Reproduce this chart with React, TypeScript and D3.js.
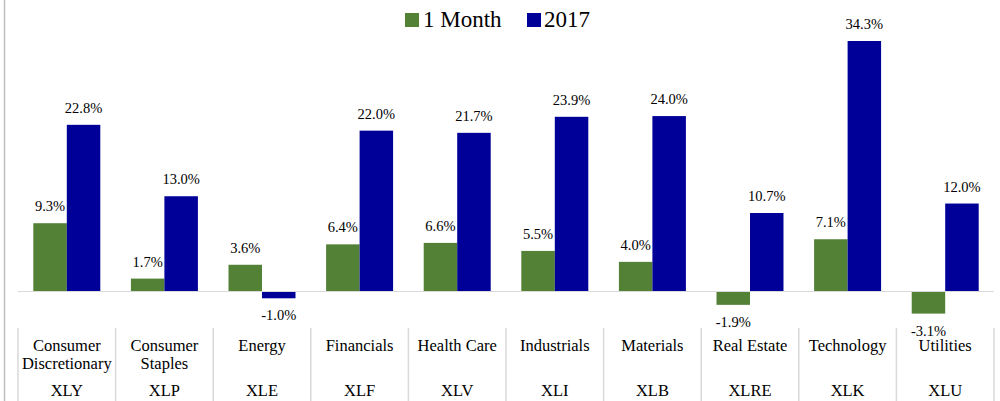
import React from "react";
import * as d3 from "d3";

const sectors = ["Consumer Discretionary", "Consumer Staples", "Energy", "Financials", "Health Care", "Industrials", "Materials", "Real Estate", "Technology", "Utilities"];
const sectorLines = [["Consumer", "Discretionary"], ["Consumer", "Staples"], ["Energy"], ["Financials"], ["Health Care"], ["Industrials"], ["Materials"], ["Real Estate"], ["Technology"], ["Utilities"]];
const tickers = ["XLY", "XLP", "XLE", "XLF", "XLV", "XLI", "XLB", "XLRE", "XLK", "XLU"];
const oneMonth = [9.3, 1.7, 3.6, 6.4, 6.6, 5.5, 4.0, -1.9, 7.1, -3.1];
const ytd2017 = [22.8, 13.0, -1.0, 22.0, 21.7, 23.9, 24.0, 10.7, 34.3, 12.0];
const seriesNames = ["1 Month", "2017"];
const colors = ["#538135", "#000099"];

const W = 1000, H = 401;
const FONT = "'Palatino Linotype', 'Book Antiqua', Palatino, 'Liberation Serif', serif";

export default function App() {
  const x = d3.scaleBand().domain(sectors).range([18, 994]).paddingInner(0).paddingOuter(0);
  const inner = d3.scaleBand().domain(seriesNames).range([0, x.bandwidth()]).paddingInner(0).paddingOuter(0.457);
  const y = d3.scaleLinear().domain([0, 34.3]).range([291, 41]);
  const series = [oneMonth, ytd2017];
  return (
    <svg width={W} height={H} style={{ position: "absolute", left: 0, top: 0, background: "#fff" }} fontFamily={FONT}>
      <line x1={4.5} x2={4.5} y1={0} y2={H} stroke="#bfbfbf" strokeWidth={1.5} />
      {/* legend */}
      <g>
        <rect x={405} y={13} width={14} height={14} fill={colors[0]} />
        <text x={423} y={27} fontSize={23} fill="#000">1 Month</text>
        <rect x={527} y={13} width={14} height={14} fill={colors[1]} />
        <text x={544} y={27} fontSize={23} fill="#000">2017</text>
      </g>
      {/* bars */}
      {series.map((vals, si) =>
        vals.map((v, i) => {
          const bx = (x(sectors[i]) as number) + (inner(seriesNames[si]) as number);
          const bw = inner.bandwidth();
          const y0 = y(0), y1 = y(v);
          return (
            <g key={`${si}-${i}`}>
              <rect x={bx} y={Math.min(y0, y1)} width={bw} height={Math.abs(y1 - y0)} fill={colors[si]} />
              <text x={bx + bw / 2} y={v >= 0 ? y1 - 12 : y1 + 22} textAnchor="middle" fontSize={14.5} fill="#000">
                {v.toFixed(1) + "%"}
              </text>
            </g>
          );
        })
      )}
      <line x1={18} x2={994} y1={y(0) + 0.5} y2={y(0) + 0.5} stroke="#d9d9d9" strokeWidth={1} />
      {/* category axis */}
      {d3.range(sectors.length + 1).map((k) => {
        const xx = k < sectors.length ? (x(sectors[k]) as number) : 994;
        return <line key={k} x1={xx} x2={xx} y1={328} y2={H} stroke="#d9d9d9" strokeWidth={1.5} />;
      })}
      {sectors.map((s, i) => {
        const cx = (x(s) as number) + x.bandwidth() / 2;
        return (
          <g key={s}>
            {sectorLines[i].map((ln, j) => (
              <text key={j} x={cx} y={350.5 + j * 18.5} textAnchor="middle" fontSize={16.5} fill="#000">{ln}</text>
            ))}
            <text x={cx} y={395.5} textAnchor="middle" fontSize={16.5} fill="#000">{tickers[i]}</text>
          </g>
        );
      })}
    </svg>
  );
}
